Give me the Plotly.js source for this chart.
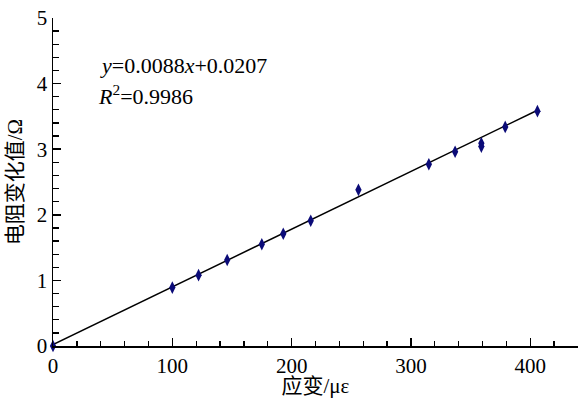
<!DOCTYPE html>
<html>
<head>
<meta charset="utf-8">
<script src="https://cdn.plot.ly/plotly-3.0.1.min.js"></script>
<style>html,body{margin:0;padding:0;background:#fff;}#chart{width:580px;height:398px;}</style>
</head>
<body>
<div id="chart"></div>
<script>
// Measured data: strain (με) vs resistance change (Ω)
const strain = [0, 100, 122, 146, 175, 193, 216, 256, 315, 337, 359, 359, 379, 406];
const resistance = [0, 0.89, 1.08, 1.31, 1.55, 1.71, 1.91, 2.38, 2.77, 2.96, 3.09, 3.04, 3.34, 3.58];
// Linear fit y = 0.0088x + 0.0207
const fitSlope = 0.0088;
const fitIntercept = 0.0207;
const fitX = [0, 406];
const fitY = fitX.map(v => fitSlope * v + fitIntercept);
const xTickVals = [0, 100, 200, 300, 400];
const xMinorVals = [20,40,60,80,120,140,160,180,220,240,260,280,320,340,360,380,420,440];
const yTickVals = [0, 1, 2, 3, 4, 5];
const yMinorVals = [0.2,0.4,0.6,0.8,1.2,1.4,1.6,1.8,2.2,2.4,2.6,2.8,3.2,3.4,3.6,3.8,4.2,4.4,4.6,4.8];

const serif = 'Liberation Serif, Noto Sans CJK SC';

const traces = [
  {x: fitX, y: fitY, mode: 'lines', line: {color: '#000000', width: 1.5}, hoverinfo: 'skip'},
  {x: strain, y: resistance, mode: 'markers', cliponaxis: false,
   marker: {symbol: 'diamond-tall', size: 9, color: '#0b0b78', line: {width: 0}}}
];

const layout = {
  width: 580, height: 398,
  margin: {l: 53, r: 2, t: 18, b: 52},
  paper_bgcolor: '#ffffff', plot_bgcolor: '#ffffff',
  showlegend: false,
  font: {family: serif, color: '#000000', size: 21},
  xaxis: {
    range: [0, 440], tickmode: 'array', tickvals: xTickVals,
    ticks: 'inside', ticklen: 8, tickwidth: 1.5, tickcolor: '#000',
    minor: {tickmode: 'array', tickvals: xMinorVals, ticks: 'inside', ticklen: 5, tickwidth: 1.3, tickcolor: '#000'},
    showline: true, linecolor: '#000', linewidth: 1.5, showgrid: false, zeroline: false,
    tickfont: {family: serif, size: 21, color: '#000'},
    title: {text: '应变/με', font: {family: serif, size: 21, color: '#000'}, standoff: 5}
  },
  yaxis: {
    range: [0, 5], tickmode: 'array', tickvals: yTickVals,
    ticks: 'inside', ticklen: 8, tickwidth: 1.5, tickcolor: '#000',
    minor: {tickmode: 'array', tickvals: yMinorVals, ticks: 'inside', ticklen: 6, tickwidth: 1.3, tickcolor: '#000'},
    showline: true, linecolor: '#000', linewidth: 1.5, showgrid: false, zeroline: false,
    tickfont: {family: serif, size: 21, color: '#000'},
    title: {text: '电阻变化值/Ω', font: {family: serif, size: 21, color: '#000'}, standoff: 8}
  },
  annotations: [
    {xref: 'paper', yref: 'paper', x: 0.086, y: 0.855, xanchor: 'left', yanchor: 'middle', showarrow: false,
     text: '<i>y</i>=0.0088<i>x</i>+0.0207', font: {family: serif, size: 22, color: '#000'}},
    {xref: 'paper', yref: 'paper', x: 0.082, y: 0.765, xanchor: 'left', yanchor: 'middle', showarrow: false,
     text: '<i>R</i><sup>2</sup>=0.9986', font: {family: serif, size: 22, color: '#000'}}
  ]
};

Plotly.newPlot('chart', traces, layout, {displayModeBar: false, staticPlot: true});
</script>
</body>
</html>
